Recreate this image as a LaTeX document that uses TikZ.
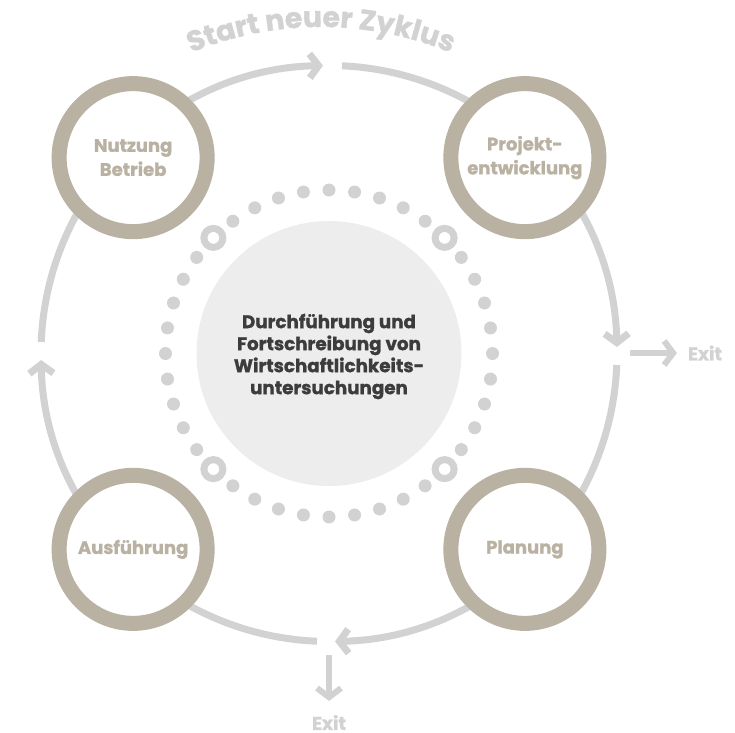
\documentclass[tikz,border=0pt]{standalone}
\usepackage{fontspec}
\setmainfont{Poppins}[BoldFont={Poppins Bold}, BoldFeatures={FakeBold=1.2}]
\usetikzlibrary{arrows.meta}
\usetikzlibrary{decorations.text}
\definecolor{ringgray}{HTML}{D2D2D2}
\definecolor{stagebeige}{HTML}{B9B1A2}
\definecolor{corefill}{HTML}{EDEDED}
\definecolor{coretext}{HTML}{3C3C3C}
\tikzset{cyclearrow/.style={draw=ringgray, line width=7pt,
			-{Straight Barb[length=9pt,width=24pt]}},
	stage/.style={circle, draw=stagebeige, line width=15pt, fill=white,
			minimum size=148pt, inner sep=0pt, align=center,
			text=stagebeige, font=\bfseries\fontsize{18}{24}\selectfont},
	exitlabel/.style={text=ringgray, font=\bfseries\fontsize{18.5}{18.5}\selectfont, inner sep=1pt}}

\begin{document}
\begin{tikzpicture}[x=1pt,y=1pt]
		\useasboundingbox (-329,-378.5) rectangle (406,353.5);
		
		% outer cycle, clockwise
		\draw[cyclearrow] (177.7:288) arc[start angle=177.7, end angle=91.2, radius=288];
		\draw[cyclearrow] (87.4:288) arc[start angle=87.4, end angle=1.3, radius=288];
		\draw[cyclearrow] (-2.3:288) arc[start angle=-2.3, end angle=-88.8, radius=288];
		\draw[cyclearrow] (-92.4:288) arc[start angle=-92.4, end angle=-178.7, radius=288];
		
		\path[decorate, decoration={text along path, text align=center,
				text={|\bfseries\fontsize{28.5}{28.5}\selectfont\color{ringgray}|Start neuer Zyklus}}]
			(-8,-13.5) ++(120:340) arc[start angle=120, end angle=60, radius=340];
		
		% exits
		\coordinate (splitR) at (301,0.5);
		\coordinate (splitB) at (0,-301.5);
		\node[exitlabel] (exitR) at (376,0.5) {Exit};
		\node[exitlabel] (exitB) at (0,-369) {Exit};
		\draw[cyclearrow, line width=6pt] (splitR) -- ([xshift=-10pt]exitR.west);
		\draw[cyclearrow, line width=6pt] (splitB) -- ([yshift=13pt]exitB.north);
		
		% inner ring of dots
		\foreach \a in {0,9,...,351} {
			\fill[ringgray] (\a:163.5) circle (6.5);
		}
		\foreach \a in {45,135,225,315} {
			\draw[ringgray, fill=white, line width=7pt] (\a:163.5) circle (9.5);
		}
		
		\node[circle, fill=corefill, minimum size=265pt] (core) at (0,0) {};
		\node[align=center, text=coretext, font=\bfseries\fontsize{18.3}{22}\selectfont]
			(coretitle) at (0,-3)
			{Durchführung und\\Fortschreibung von\\Wirtschaftlichkeits-\\untersuchungen};
		
		\node[stage] (nutzung) at (135:277) {Nutzung\\Betrieb};
		\node[stage] (projekt) at (45:277) {Projekt-\\entwicklung};
		\node[stage] (planung) at (-45:277) {Planung};
		\node[stage] (ausfuehrung) at (-135:277) {Ausführung};
\end{tikzpicture}
\end{document}
